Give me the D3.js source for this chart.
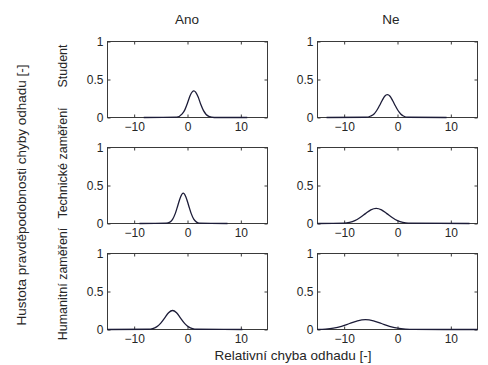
<!DOCTYPE html>
<html>
<head>
<meta charset="utf-8">
<script src="https://cdn.jsdelivr.net/npm/d3@7"></script>
<style>
html,body{margin:0;padding:0;background:#fff;}
svg{display:block;}
text{font-family:"Liberation Sans",Arial,sans-serif;fill:#262626;}
</style>
</head>
<body>
<svg id="chart" width="488" height="365"></svg>
<script>
// ---- data ----
const columns = ["Ano", "Ne"];
const rows = ["Student", "Technické zaměření", "Humanitní zaměření"];
const xTicks = [-10, 0, 10];
const yTicks = [0, 0.5, 1];
const yTickLabels = ["0", "0.5", "1"];
const yLabel = "Hustota pravděpodobnosti chyby odhadu [-]";
const xLabel = "Relativní chyba odhadu [-]";

// Student / Ano
const studentAnoX = [-8.2, -2, -1, -0.5, 0, 0.5, 1.2, 2, 2.5, 3, 4, 5, 11.2];
const studentAnoY = [0, 0.005, 0.047, 0.10, 0.19, 0.29, 0.35, 0.27, 0.17, 0.09, 0.014, 0, 0];
// Student / Ne
const studentNeX = [-13.3, -6, -5, -4.4, -3.9, -3.4, -2.9, -2.4, -1.9, -1.4, -0.9, -0.4, 0.1, 0.6, 1.1, 2, 9.2];
const studentNeY = [0, 0.003, 0.02, 0.047, 0.092, 0.154, 0.22, 0.28, 0.30, 0.28, 0.22, 0.154, 0.092, 0.047, 0.02, 0.003, 0];
// Technické / Ano
const techAnoX = [-9, -4, -3.3, -2.8, -2.3, -1.8, -1.3, -0.8, -0.3, 0.2, 0.7, 1.2, 1.7, 2.2, 7.5];
const techAnoY = [0, 0.004, 0.018, 0.054, 0.13, 0.24, 0.35, 0.40, 0.35, 0.24, 0.13, 0.054, 0.018, 0.004, 0];
// Technické / Ne
const techNeX = [-15, -10, -9, -8, -7, -6, -5, -4, -3, -2, -1, 0, 1, 2, 13.5];
const techNeY = [0, 0.005, 0.015, 0.038, 0.079, 0.13, 0.18, 0.20, 0.18, 0.13, 0.079, 0.038, 0.015, 0.005, 0];
// Humanitní / Ano
const humAnoX = [-15, -7.3, -6.55, -5.8, -5.05, -4.3, -3.55, -2.8, -2.05, -1.3, -0.55, 0.2, 0.95, 1.7, 10.3];
const humAnoY = [0, 0.003, 0.011, 0.034, 0.081, 0.15, 0.22, 0.25, 0.22, 0.15, 0.081, 0.034, 0.011, 0.003, 0];
// Humanitní / Ne
const humNeX = [-15, -13.5, -12, -10.5, -9, -7.5, -6, -4.5, -3, -1.5, 0, 1.5, 3, 15];
const humNeY = [0.001, 0.006, 0.018, 0.042, 0.079, 0.115, 0.13, 0.115, 0.079, 0.042, 0.018, 0.006, 0.001, 0];

const series = [
  [[studentAnoX, studentAnoY], [studentNeX, studentNeY]],
  [[techAnoX, techAnoY], [techNeX, techNeY]],
  [[humAnoX, humAnoY], [humNeX, humNeY]]
];

// ---- layout ----
const svg = d3.select("#chart");
const colX = [[107.5, 267.5], [317.5, 477.5]];
const rowTop = [41.5, 147.5, 253.5];
const panelH = 76;
const axisColor = "#3a3a3a";
const lineColor = "#1c1c38";
const tickFont = 12;
const labelFont = 13.5;
const rowFont = 12.5;

rows.forEach((rowName, ri) => {
  columns.forEach((colName, ci) => {
    const [x0, x1] = colX[ci];
    const top = rowTop[ri], bottom = top + panelH;
    const x = d3.scaleLinear().domain([-15, 15]).range([x0, x1]);
    const y = d3.scaleLinear().domain([0, 1]).range([bottom, top]);
    const g = svg.append("g");

    g.append("rect").attr("x", x0).attr("y", top).attr("width", x1 - x0).attr("height", panelH)
      .attr("fill", "#fff").attr("stroke", axisColor).attr("stroke-width", 1);

    const styleAxis = (sel, showLabels) => {
      sel.select(".domain").remove();
      sel.selectAll(".tick line").attr("stroke", axisColor);
      sel.selectAll(".tick text").attr("font-size", tickFont).attr("fill", "#262626")
        .style("font-family", '"Liberation Sans",Arial,sans-serif');
      if (!showLabels) sel.selectAll(".tick text").remove();
    };

    g.append("g").attr("transform", `translate(0,${bottom})`)
      .call(d3.axisBottom(x).tickValues(xTicks).tickSize(-3).tickSizeOuter(0).tickPadding(5).tickFormat(d3.format("d")))
      .call(s => styleAxis(s, true));
    g.append("g").attr("transform", `translate(0,${top})`)
      .call(d3.axisTop(x).tickValues(xTicks).tickSize(-3).tickSizeOuter(0))
      .call(s => styleAxis(s, false));
    g.append("g").attr("transform", `translate(${x0},0)`)
      .call(d3.axisLeft(y).tickValues(yTicks).tickSize(-3).tickSizeOuter(0).tickPadding(4)
        .tickFormat((d, i) => yTickLabels[i]))
      .call(s => styleAxis(s, true));
    g.append("g").attr("transform", `translate(${x1},0)`)
      .call(d3.axisRight(y).tickValues(yTicks).tickSize(-3).tickSizeOuter(0))
      .call(s => styleAxis(s, false));

    const [xs, ys] = series[ri][ci];
    const pts = xs.map((v, i) => [v, ys[i]]);
    g.append("path").datum(pts)
      .attr("fill", "none").attr("stroke", lineColor).attr("stroke-width", 1.3)
      .attr("d", d3.line().x(d => x(d[0])).y(d => y(d[1])).curve(d3.curveMonotoneX));
  });
});

// column titles
const colTitleX = [187, 391];
columns.forEach((c, i) => {
  svg.append("text").attr("x", colTitleX[i]).attr("y", 24).attr("text-anchor", "middle")
    .attr("font-size", labelFont).text(c);
});

// row labels
const rowLabelY = [66, 163, 284];
rows.forEach((r, i) => {
  svg.append("text").attr("transform", `translate(67,${rowLabelY[i]}) rotate(-90)`)
    .attr("text-anchor", "middle").attr("font-size", rowFont).text(r);
});

// overall labels
svg.append("text").attr("transform", `translate(26,195) rotate(-90)`)
  .attr("text-anchor", "middle").attr("font-size", labelFont).text(yLabel);
svg.append("text").attr("x", 293).attr("y", 360).attr("text-anchor", "middle")
  .attr("font-size", labelFont).text(xLabel);
</script>
</body>
</html>
